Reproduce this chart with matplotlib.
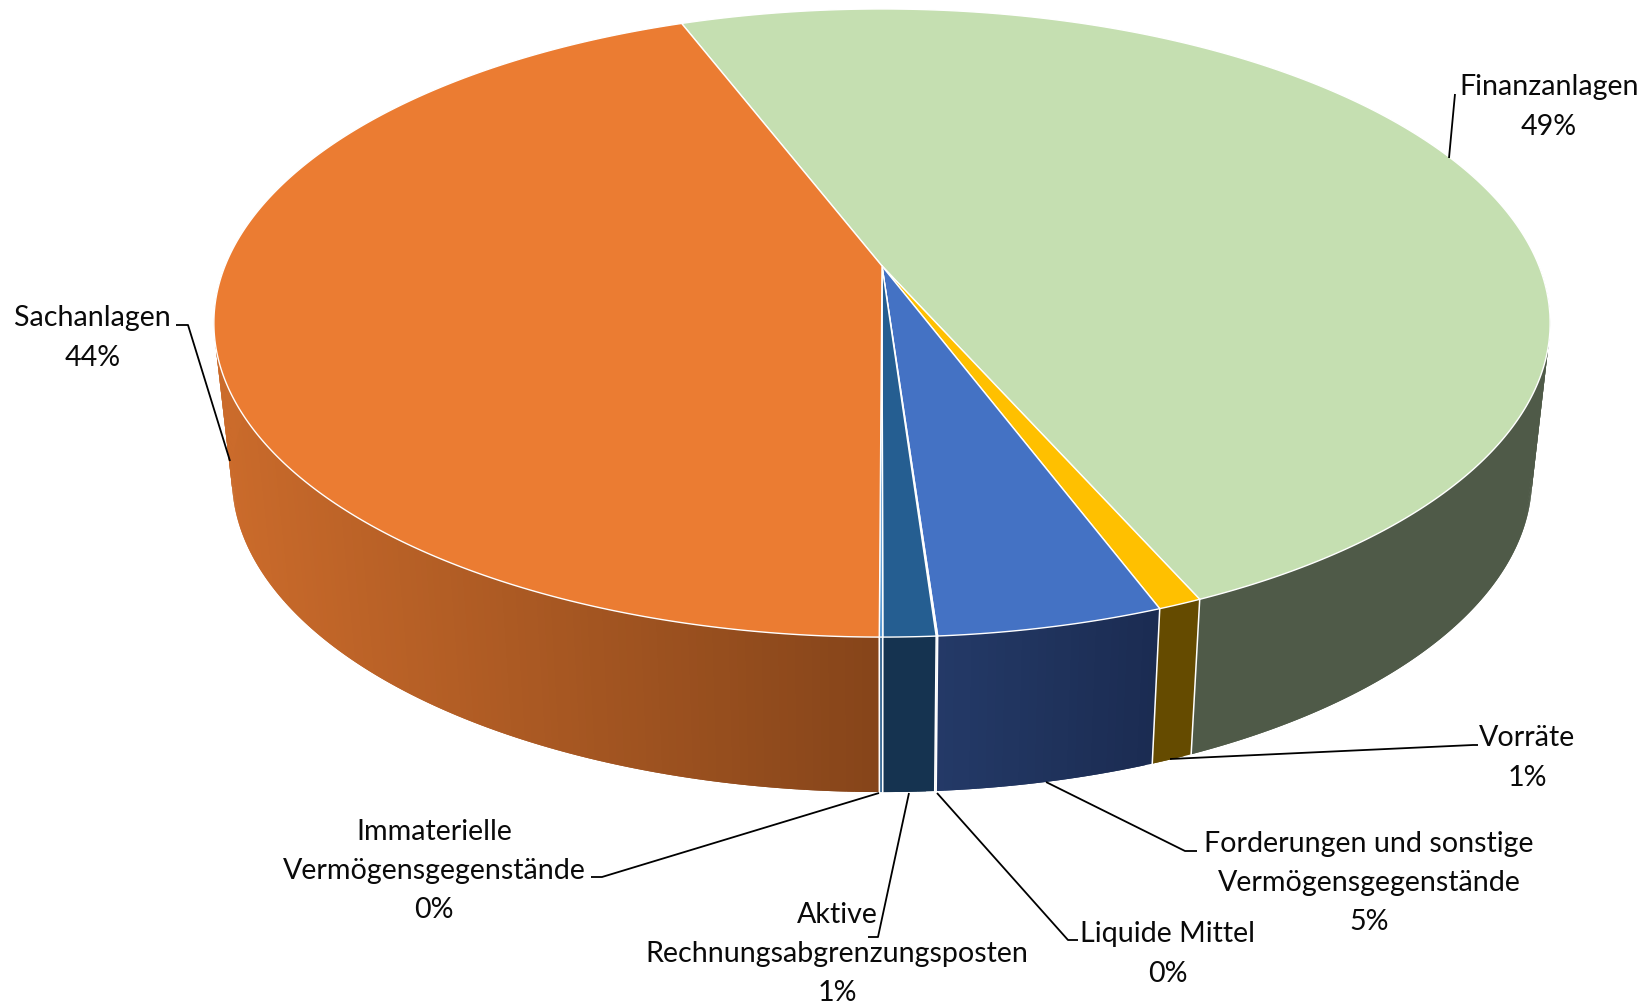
import numpy as np
import matplotlib
matplotlib.use("Agg")
import matplotlib.pyplot as plt
from matplotlib.patches import Polygon

plt.rcParams['font.family'] = ['Lato', 'DejaVu Sans']

# ---- data (clockwise from the top-left start of "Finanzanlagen") ----
names = ["Finanzanlagen", "Vorräte", "Forderungen und sonstige\nVermögensgegenstände",
         "Liquide Mittel", "Aktive\nRechnungsabgrenzungsposten",
         "Immaterielle\nVermögensgegenstände", "Sachanlagen"]
values = [49.2, 0.9, 4.6, 0.03, 1.06, 0.07, 44.14]
shown = ["49%", "1%", "5%", "0%", "1%", "0%", "44%"]
top_colors = ["#C5DFB1", "#FFC000", "#4472C4", "#E6E6E6", "#255E91", "#5B9BD5", "#EB7C32"]
side_right = ["#4F5A48", "#654B00", "#1B2C52", "#E0E0E0", "#153350", "#3E6C96", "#86451A"]
side_left = ["#4F5A48", "#654B00", "#243A68", "#E0E0E0", "#153350", "#3E6C96", "#CB6B2B"]

# ---- layout (pixels) ----
W, H = 1647, 1005
CX, CY = 882.0, 266.0
A, B, P = 657.0, 303.7, 0.1816
START = 110.9
BOT_SCALE, DEPTH = 0.973, 155.0

label_xy = [(1549, 107), (1527, 758), (1369, 883), (1168, 954), (837, 954), (434, 871), (92.5, 338)]
leaders = [
    [(1455, 94), (1449, 158)],
    [(1170, 759), (1473, 745), (1478, 745)],
    [(1046, 782), (1185, 851), (1197, 851)],
    [(937, 793), (1068, 940), (1078, 940)],
    [(909, 793), (878, 937), (868, 937)],
    [(879, 793), (602, 877), (591, 877)],
    [(176, 325), (188, 325), (230, 461)],
]


def top_pts(deg):
    t = np.radians(deg)
    w = 1 + P * np.sin(t)
    return CX + A * np.cos(t) / w, CY - B * np.sin(t) / w


def bot_pts(deg):
    x, y = top_pts(deg)
    return CX + BOT_SCALE * (x - CX), y + DEPTH


fig = plt.figure(figsize=(W / 100, H / 100), dpi=100, facecolor="white")
ax = fig.add_axes([0, 0, 1, 1])
ax.set_xlim(0, W)
ax.set_ylim(H, 0)
ax.axis("off")

sweep = np.array(values) / sum(values) * 360
edges = START - np.concatenate([[0], np.cumsum(sweep)])


def rgb(c):
    return np.array(matplotlib.colors.to_rgb(c))


# side walls: only the part of the rim turned towards the viewer
for i in range(len(values)):
    a0, a1 = edges[i], edges[i + 1]
    hi, lo = min(a0, 0.0), max(a1, -180.0)
    if hi <= lo:
        continue
    n = max(int((hi - lo) / 0.6), 1)
    ts = np.linspace(hi, lo, n + 1)
    xs_all = top_pts(ts)[0]
    xmin, xmax = xs_all.min(), xs_all.max()
    for k in range(n):
        # each strip overlaps the next one so no seams show
        seg = np.array([ts[k], ts[min(k + 2, n)]])
        xt, yt = top_pts(seg)
        xb, yb = bot_pts(seg)
        f = 0.0 if xmax == xmin else (top_pts(ts[k])[0] - xmin) / (xmax - xmin)
        col = rgb(side_left[i]) * (1 - f) + rgb(side_right[i]) * f
        ax.add_patch(Polygon(np.column_stack([[xt[0], xt[1], xb[1], xb[0]],
                                              [yt[0], yt[1], yb[1], yb[0]]]),
                             closed=True, fc=col, ec="none", lw=0, zorder=2))

# white seams on the wall
for e in edges:
    d = ((e + 180) % 360) - 180
    if np.sin(np.radians(d)) < -P:
        xt, yt = top_pts(d)
        xb, yb = bot_pts(d)
        ax.plot([xt, xb], [yt, yb], color="white", lw=1.1, zorder=3)

# top surface
for i in range(len(values)):
    ts = np.linspace(edges[i], edges[i + 1], max(int(sweep[i] / 0.5), 2) + 1)
    x, y = top_pts(ts)
    pts = np.column_stack([np.r_[CX, x], np.r_[CY, y]])
    ax.add_patch(Polygon(pts, closed=True, fc=top_colors[i], ec="white", lw=1.0,
                         joinstyle="round", zorder=4))

# leader lines
for pts in leaders:
    p = np.array(pts)
    ax.plot(p[:, 0], p[:, 1], color="black", lw=1.3, zorder=5, solid_capstyle="butt")

# labels
for name, pct, (x, y) in zip(names, shown, label_xy):
    ax.text(x, y, f"{name}\n{pct}", ha="center", va="center", fontsize=20.6,
            color="#0A0A0A", linespacing=1.62, zorder=6)

fig.savefig("out.png", dpi=100, facecolor="white")
